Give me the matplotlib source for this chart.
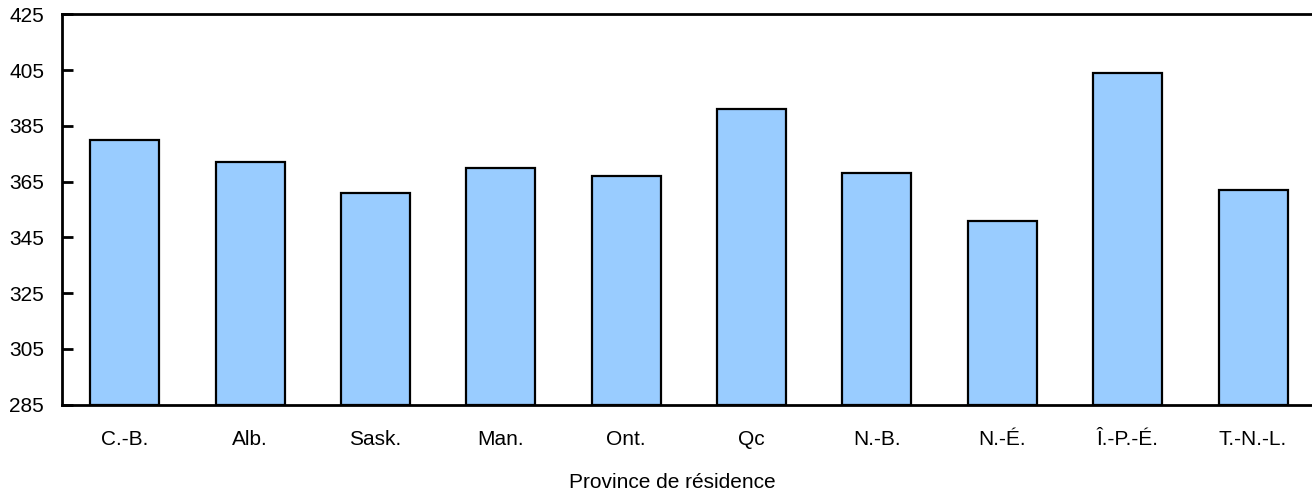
import matplotlib
matplotlib.use('Agg')
import matplotlib.pyplot as plt

plt.rcParams['font.family'] = ['Liberation Sans', 'DejaVu Sans']

provinces = ['C.-B.', 'Alb.', 'Sask.', 'Man.', 'Ont.', 'Qc', 'N.-B.', 'N.-É.', 'Î.-P.-É.', 'T.-N.-L.']
values = [380, 372, 361, 370, 367, 391, 368, 351, 404, 362]
y_ticks = [285, 305, 325, 345, 365, 385, 405, 425]

fig = plt.figure(figsize=(13.12, 4.93), dpi=100)
ax = fig.add_axes([0.0473, 0.1795, 0.9527, 0.7911])

x = range(len(provinces))
ax.bar(x, [v - 285 for v in values], bottom=285, width=0.55,
       color='#99CCFF', edgecolor='black', linewidth=1.6)

ax.set_xlim(-0.5, 9.47)
ax.set_ylim(285, 425)
ax.set_yticks(y_ticks)
ax.set_xticks(list(x))
ax.set_xticklabels(provinces)

for side in ['left', 'top', 'bottom']:
    ax.spines[side].set_linewidth(2.0)
ax.spines['right'].set_visible(False)

ax.tick_params(axis='y', direction='in', length=8, width=2, pad=13, labelsize=15)
ax.tick_params(axis='x', length=0, pad=18, labelsize=15)

ax.set_xlabel('Province de résidence', fontsize=15)
ax.xaxis.set_label_coords(0.488, -0.175)

fig.savefig('out.png', dpi=100)
